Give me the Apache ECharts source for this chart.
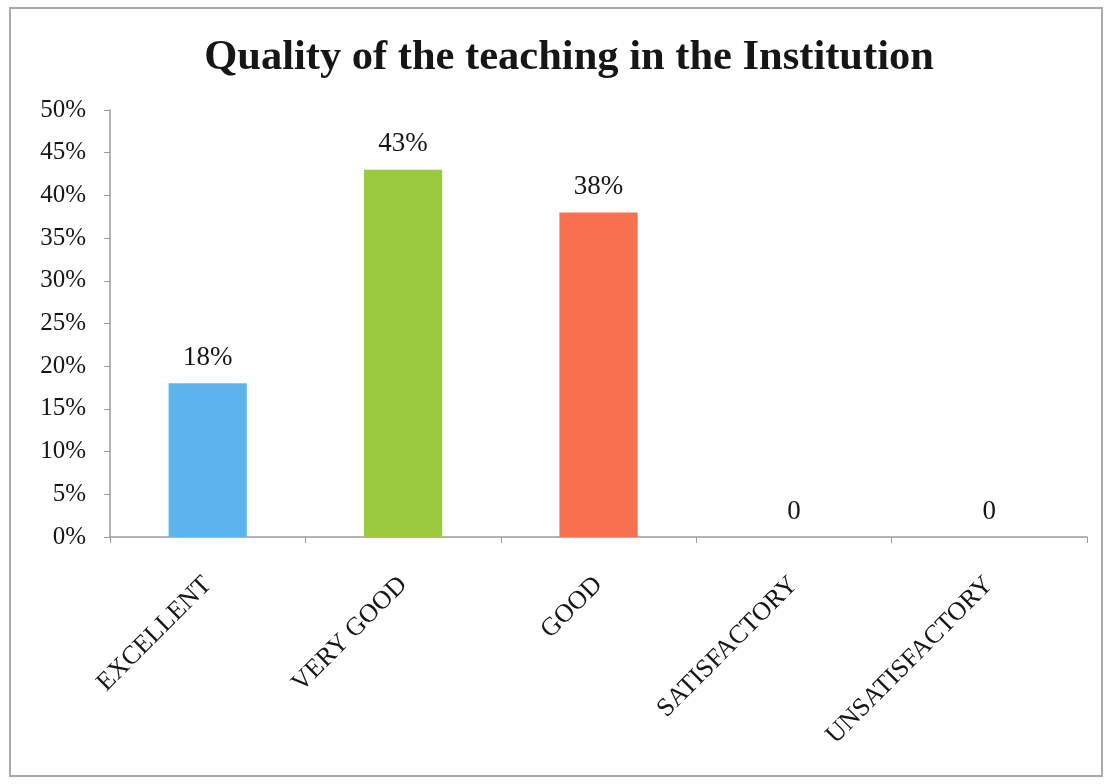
<!DOCTYPE html>
<html>
<head>
<meta charset="utf-8">
<script src="https://cdn.jsdelivr.net/npm/echarts@6/dist/echarts.min.js"></script>
<style>
html,body{margin:0;padding:0;background:#fff;}
#frame{position:absolute;left:9px;top:7px;width:1094px;height:770px;border:2px solid #a9a9ad;box-sizing:border-box;}
#chart{position:absolute;left:0;top:0;width:1109px;height:784px;}
</style>
</head>
<body>
<div id="frame"></div>
<div id="chart"></div>
<script>
const titleText = 'Quality of the teaching in the Institution';
const categories = ['EXCELLENT', 'VERY GOOD', 'GOOD', 'SATISFACTORY', 'UNSATISFACTORY'];
const values = [18, 43, 38, 0, 0];
const barColors = ['#5db3ec', '#9bca3e', '#f7704f', '#999999', '#999999'];
const yMin = 0, yMax = 50, yStep = 5;

const chart = echarts.init(document.getElementById('chart'), null, {renderer: 'canvas'});
const serif = '"Liberation Serif", "DejaVu Serif", serif';
chart.setOption({
  animation: false,
  backgroundColor: 'transparent',
  title: {
    text: titleText,
    left: 564,
    textAlign: 'center',
    top: 32,
    textStyle: {fontFamily: serif, fontWeight: 'bold', fontSize: 42.5, color: '#161616'}
  },
  grid: {left: 110, right: 22, top: 110, bottom: 247, containLabel: false},
  xAxis: {
    type: 'category',
    data: categories,
    axisLine: {show: true, lineStyle: {color: '#9a9aa6', width: 1.5}},
    axisTick: {show: true, length: 6, alignWithLabel: false, lineStyle: {color: '#9a9aa6'}},
    axisLabel: {
      rotate: 45, interval: 0, margin: 44,
      fontFamily: serif, fontSize: 26, color: '#161616'
    }
  },
  yAxis: {
    type: 'value',
    min: yMin, max: yMax, interval: yStep,
    axisLine: {show: true, lineStyle: {color: '#9a9aa6', width: 1.5}},
    axisTick: {show: true, length: 6, lineStyle: {color: '#9a9aa6'}},
    splitLine: {show: false},
    axisLabel: {formatter: '{value}%', fontFamily: serif, fontSize: 25, color: '#161616', margin: 24}
  },
  series: [{
    type: 'bar',
    data: values.map((v, i) => ({value: v, itemStyle: {color: barColors[i]}})),
    barWidth: '40%',
    label: {
      show: true, position: 'top', distance: 12,
      fontFamily: serif, fontSize: 27, color: '#161616',
      formatter: p => p.value === 0 ? '0' : p.value + '%'
    }
  }]
});
</script>
</body>
</html>
